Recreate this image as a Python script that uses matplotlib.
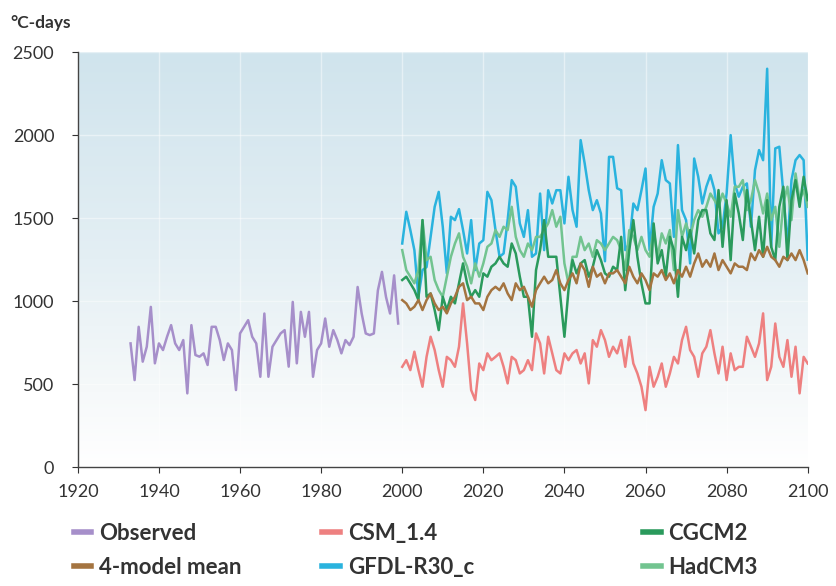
import numpy as np
import matplotlib
matplotlib.use("Agg")
import matplotlib.pyplot as plt
from matplotlib.colors import LinearSegmentedColormap
from matplotlib.lines import Line2D

plt.rcParams['font.family'] = ['Lato', 'DejaVu Sans']

# observed, 1933-1999
obs_years = np.arange(1933, 2000)
observed = [745, 524, 845, 635, 725, 965, 625, 745, 705, 785,
            855, 745, 705, 765, 444, 855, 675, 665, 685, 615,
            845, 845, 765, 645, 745, 705, 464, 805, 845, 885,
            785, 745, 544, 925, 544, 725, 765, 805, 825, 605,
            995, 625, 935, 785, 935, 544, 705, 745, 895, 725,
            825, 765, 685, 765, 735, 785, 1085, 925, 805, 795,
            805, 1065, 1176, 1025, 925, 1155, 865]

# model runs, 2000-2100
mod_years = np.arange(2000, 2101)
csm = [604, 644, 584, 695, 584, 484, 664, 785, 705, 584, 484, 664, 644, 604, 725, 986, 745, 464, 404, 624, 584, 685, 644, 664, 685,
       604, 504, 664, 644, 564, 584, 644, 584, 805, 745, 564, 785, 685, 584, 564, 685, 644, 685, 705, 624, 685, 504, 765, 725, 825,
       765, 664, 725, 685, 765, 604, 785, 624, 564, 484, 343, 604, 484, 544, 624, 484, 564, 664, 624, 765, 845, 705, 664, 544, 685,
       725, 825, 685, 564, 725, 524, 685, 584, 604, 604, 785, 725, 664, 745, 926, 524, 604, 865, 664, 604, 765, 544, 725, 444, 664, 624]
gfdl = [1347, 1538, 1428, 1307, 1026, 1187, 1205, 1387, 1568, 1658, 1448, 1167, 1508, 1488, 1554, 1428, 1287, 1488, 1187, 1347, 1367, 1658, 1608, 1428, 1267,
        1287, 1488, 1729, 1689, 1468, 1387, 1548, 1267, 1287, 1648, 1307, 1668, 1588, 1668, 1668, 1468, 1749, 1548, 1448, 1970, 1829, 1668, 1548, 1608, 1528,
        1240, 1869, 1869, 1680, 1668, 1307, 1347, 1588, 1548, 1668, 1799, 1307, 1568, 1648, 1849, 1729, 1709, 1387, 1940, 1548, 1488, 1227, 1859, 1749, 1588,
        1689, 1759, 1669, 1408, 1448, 1648, 2000, 1709, 1629, 1689, 1709, 1448, 1789, 1910, 1849, 2400, 1327, 1920, 1930, 1648, 1327, 1729, 1849, 1880, 1849, 1250]
cgcm2 = [1127, 1147, 1107, 1066, 1006, 1488, 1026, 1046, 946, 825, 1026, 946, 1026, 986, 1107, 1227, 1107, 1026, 1066, 1026, 1167, 1147, 1207, 1227, 1267,
         1227, 1207, 1347, 1287, 1147, 1026, 1026, 785, 1187, 1307, 1488, 1267, 1267, 1267, 1026, 785, 1066, 1247, 1167, 1227, 1247, 1147, 1207, 1307, 1247,
         1167, 1147, 1207, 1187, 1387, 1066, 1307, 1488, 1267, 1107, 986, 986, 1468, 1227, 1307, 1147, 1387, 1307, 1026, 1387, 1307, 1428, 1287, 1488, 1548,
         1548, 1408, 1368, 1669, 1327, 1608, 1247, 1648, 1528, 1368, 1669, 1488, 1307, 1508, 1267, 1608, 1327, 1247, 1568, 1689, 1247, 1608, 1729, 1568, 1749, 1608]
hadcm3 = [1307, 1187, 1147, 1107, 1187, 1488, 1247, 1267, 1127, 1066, 1026, 1147, 1267, 1347, 1408, 1267, 1207, 1107, 1227, 1147, 1227, 1327, 1347, 1428, 1387,
          1448, 1428, 1568, 1387, 1307, 1267, 1347, 1307, 1387, 1387, 1428, 1468, 1548, 1448, 1508, 1227, 1107, 1267, 1267, 1387, 1307, 1347, 1267, 1367, 1347,
          1307, 1347, 1387, 1367, 1307, 1187, 1428, 1387, 1307, 1387, 1307, 1267, 1428, 1267, 1408, 1347, 1428, 1187, 1548, 1387, 1468, 1387, 1488, 1548, 1508,
          1568, 1648, 1608, 1568, 1648, 1588, 1508, 1689, 1689, 1729, 1548, 1608, 1729, 1648, 1528, 1648, 1488, 1568, 1327, 1588, 1689, 1488, 1769, 1608, 1669, 1568]
mean4 = [1006, 986, 946, 966, 1006, 946, 1006, 1046, 986, 946, 966, 926, 986, 1026, 1086, 1107, 1006, 1026, 986, 986, 946, 1026, 1066, 1086, 1066,
         1107, 1046, 1006, 1107, 1066, 1086, 1026, 966, 1066, 1107, 1147, 1107, 1127, 1187, 1107, 1066, 1127, 1167, 1107, 1227, 1187, 1086, 1207, 1147, 1167,
         1107, 1167, 1167, 1187, 1147, 1107, 1207, 1147, 1107, 1167, 1127, 1066, 1167, 1147, 1187, 1127, 1167, 1107, 1187, 1147, 1207, 1147, 1227, 1287, 1207,
         1247, 1207, 1287, 1187, 1247, 1207, 1167, 1227, 1207, 1207, 1187, 1287, 1247, 1307, 1267, 1327, 1267, 1247, 1207, 1267, 1247, 1287, 1247, 1307, 1247, 1167]

c_obs = "#a68fca"
c_csm = "#ee8080"
c_cgcm = "#2a9a5c"
c_gfdl = "#2ab3de"
c_had = "#72c490"
c_mean = "#a47440"

fig = plt.figure(figsize=(8.37, 5.86), dpi=100)
ax = fig.add_axes([0.093, 0.203, 0.872, 0.708])

# background gradient
cmap = LinearSegmentedColormap.from_list("bg", [(0, "#d0e4ed"), (0.5, "#e4eff4"), (0.82, "#f6f9fa"), (1, "#ffffff")])
grad = np.linspace(0, 1, 256).reshape(-1, 1)
ax.imshow(grad, extent=[0, 1, 0, 1], transform=ax.transAxes, cmap=cmap, aspect="auto", zorder=0)

ax.grid(True, color="white", lw=1.0, alpha=0.45, zorder=1)

lw = 1.8
ax.plot(obs_years, observed, color=c_obs, lw=lw, zorder=3)
ax.plot(mod_years, csm, color=c_csm, lw=lw, zorder=3)
ax.plot(mod_years, gfdl, color=c_gfdl, lw=lw, zorder=3)
ax.plot(mod_years, hadcm3, color=c_had, lw=lw, zorder=4)
ax.plot(mod_years, cgcm2, color=c_cgcm, lw=lw, zorder=4)
ax.plot(mod_years, mean4, color=c_mean, lw=lw, zorder=5)

ax.set_xlim(1920, 2100)
ax.set_ylim(0, 2500)
ax.set_xticks(np.arange(1920, 2101, 20))
ax.set_yticks(np.arange(0, 2501, 500))
for s in ["top", "right"]:
    ax.spines[s].set_visible(False)
for s in ["left", "bottom"]:
    ax.spines[s].set_color("#444444")
    ax.spines[s].set_linewidth(1.0)
ax.tick_params(axis="y", length=4, pad=13, labelsize=13, colors="#333333")
ax.tick_params(axis="x", length=4, pad=8, labelsize=13, colors="#333333")

fig.text(0.012, 0.952, "°C-days", fontsize=12.5, color="#333333", fontweight="bold")

# legend, three columns
cols = [(0.088, ["Observed", "4-model mean"], [c_obs, c_mean]),
        (0.385, ["CSM_1.4", "GFDL-R30_c"], [c_csm, c_gfdl]),
        (0.768, ["CGCM2", "HadCM3"], [c_cgcm, c_had])]
for x, labels, colors in cols:
    handles = [Line2D([], [], color=c, lw=4) for c in colors]
    leg = fig.legend(handles, labels, loc="upper left", bbox_to_anchor=(x, 0.108),
                     frameon=False, handlelength=0.8, handletextpad=0.35,
                     labelspacing=0.6, borderaxespad=0, borderpad=0,
                     prop={"size": 16, "weight": "bold"})
    for t in leg.get_texts():
        t.set_color("#333333")

fig.savefig("out.png", dpi=100)
